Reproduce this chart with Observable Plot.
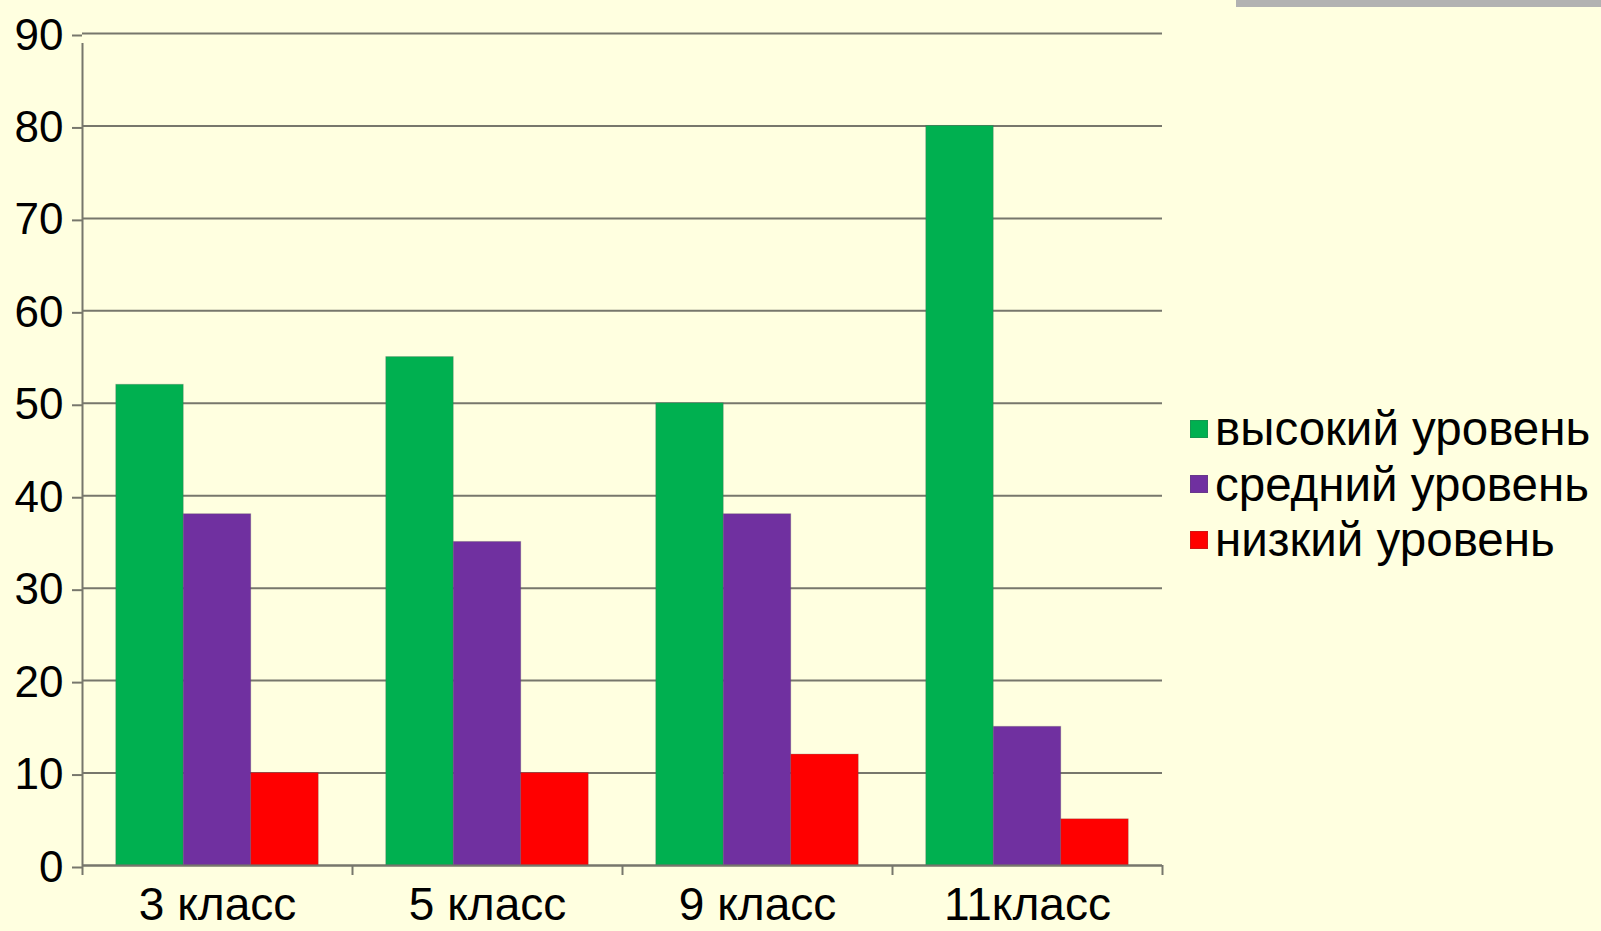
<!DOCTYPE html>
<html><head><meta charset="utf-8">
<script src="https://cdn.jsdelivr.net/npm/d3@7"></script>
<script src="https://cdn.jsdelivr.net/npm/@observablehq/plot@0.6"></script>
<style>
body{margin:0;background:#FFFFE0;width:1601px;height:931px;overflow:hidden;position:relative;font-family:"Liberation Sans",Arial,sans-serif;}
#topbar{position:absolute;left:1236px;top:0;width:365px;height:7px;background:#b2b2b2;}
#chart{position:absolute;left:0;top:0;}
#legend{position:absolute;left:1190px;top:401px;}
.item{display:flex;align-items:center;height:55.5px;font-size:47.5px;color:#000;line-height:1;}
.sw{width:18px;height:18px;margin-right:7px;flex:none;box-sizing:border-box;border:1px solid rgba(80,80,80,0.25);}
</style></head><body>
<div id="topbar"></div>
<div id="chart"></div>
<div id="legend"></div>
<script>
const classes = ["3 класс", "5 класс", "9 класс", "11класс"];
const levels = ["высокий уровень", "средний уровень", "низкий уровень"];
const high = [52, 55, 50, 80];
const mid = [38, 35, 38, 15];
const low = [10, 10, 12, 5];
const colors = ["#00B050", "#7030A0", "#FF0000"];
const yTicks = [0, 10, 20, 30, 40, 50, 60, 70, 80, 90];

const series = [high, mid, low];
const slots = levels.length + 1;
const rows = classes.flatMap((c, i) => series.map((s, j) => ({
  cls: c, level: levels[j], value: s[i],
  x1: i * slots + j + 0.5, x2: i * slots + j + 1.5
})));
const boundaries = classes.map((c, i) => i * slots).concat([classes.length * slots]);
const centers = classes.map((c, i) => i * slots + slots / 2);
const lineColor = "#77776c";

const chart = Plot.plot({
  width: 1180, height: 931,
  marginLeft: 82, marginRight: 18, marginTop: 33, marginBottom: 66,
  style: {background: "transparent", color: "#000", fontFamily: "'Liberation Sans', Arial, sans-serif"},
  x: {type: "linear", domain: [0, classes.length * slots]},
  y: {domain: [0, 90]},
  color: {domain: levels, range: colors},
  marks: [
    Plot.gridY(yTicks, {stroke: lineColor, strokeOpacity: 1, strokeWidth: 2}),
    Plot.rectY(rows, {x1: "x1", x2: "x2", y: "value", fill: "level", stroke: "#555", strokeOpacity: 0.25, strokeWidth: 1}),
    Plot.ruleX([0], {y1: 0, y2: 90, insetBottom: -10, stroke: lineColor, strokeWidth: 2}),
    Plot.ruleY([0], {stroke: lineColor, strokeWidth: 2}),
    Plot.axisY({ticks: yTicks, tickSize: 10, tickPadding: 9, fontSize: 44, stroke: lineColor, strokeWidth: 2, dy: 2, label: null}),
    Plot.axisX({ticks: boundaries, tickSize: 10, tickFormat: () => "", stroke: lineColor, strokeWidth: 2, label: null}),
    Plot.axisX({ticks: centers, tickSize: 0, tickPadding: 22, fontSize: 46, tickFormat: d => classes[centers.indexOf(d)], label: null})
  ]
});
document.getElementById("chart").appendChild(chart);

const legend = document.getElementById("legend");
levels.forEach((l, i) => {
  const item = document.createElement("div");
  item.className = "item";
  const sw = document.createElement("span");
  sw.className = "sw";
  sw.style.background = colors[i];
  const tx = document.createElement("span");
  tx.textContent = l;
  item.appendChild(sw); item.appendChild(tx);
  legend.appendChild(item);
});
</script>
</body></html>
